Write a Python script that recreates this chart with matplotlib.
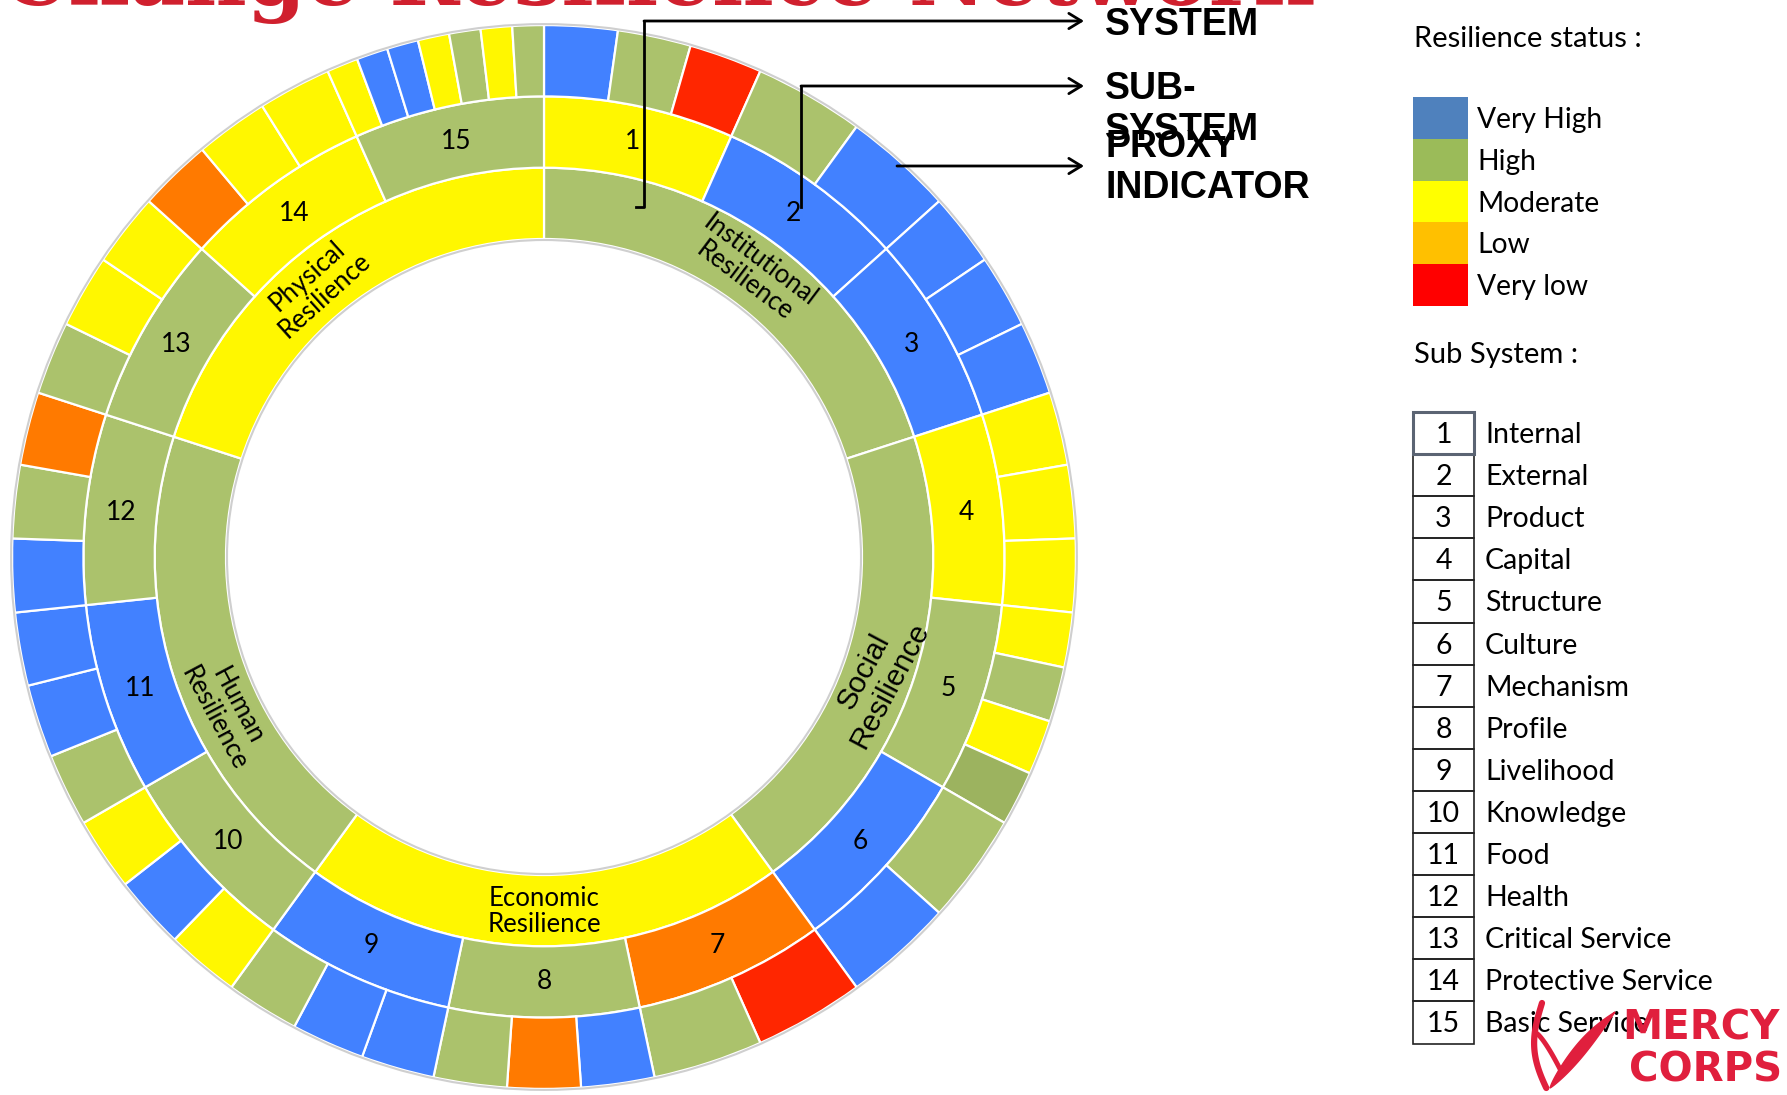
import numpy as np
import matplotlib.pyplot as plt
from matplotlib.patches import Rectangle, Circle, Polygon

W, H = 1787, 1095

# resilience status -> fill colour used in the rings
ring_colors = {
    'VH': '#4281ff',
    'H': '#abc26c',
    'Hd': '#9cb35f',
    'M': '#fff700',
    'L': '#ff7a00',
    'VL': '#ff2600',
}

systems = ['Institutional\nResilience', 'Social\nResilience', 'Economic\nResilience',
           'Human\nResilience', 'Physical\nResilience']
system_status = ['H', 'H', 'M', 'H', 'M']
subs_per_system = [3, 3, 3, 3, 3]

subsystem_ids = list(range(1, 16))
subsystem_names = ['Internal', 'External', 'Product', 'Capital', 'Structure', 'Culture',
                   'Mechanism', 'Profile', 'Livelihood', 'Knowledge', 'Food', 'Health',
                   'Critical Service', 'Protective Service', 'Basic Service']
subsystem_status = ['M', 'VH', 'VH', 'M', 'H', 'VH', 'L', 'H', 'VH', 'H', 'VH', 'H', 'H', 'M', 'H']

# proxy indicators of each sub-system
indicator_status = [
    ['VH', 'H', 'VL'],
    ['H', 'VH'],
    ['VH', 'VH', 'VH'],
    ['M', 'M', 'M'],
    ['M', 'H', 'M', 'Hd'],
    ['H', 'VH'],
    ['VL', 'H'],
    ['VH', 'L', 'H'],
    ['VH', 'VH', 'H'],
    ['M', 'VH', 'M'],
    ['H', 'VH', 'VH'],
    ['VH', 'H', 'L'],
    ['H', 'M', 'M'],
    ['L', 'M', 'M'],
    ['M', 'VH', 'VH', 'M', 'H', 'M', 'H'],
]

status_labels = ['Very High', 'High', 'Moderate', 'Low', 'Very low']
legend_colors = ['#4f81bd', '#9bbb59', '#ffff00', '#ffc000', '#ff0000']

fig = plt.figure(figsize=(W / 100, H / 100), dpi=100)

# ring chart, 1 data unit = 1 pixel
cx, cy, L = 544, 557, 545
ax = fig.add_axes([(cx - L) / W, (H - cy - L) / H, 2 * L / W, 2 * L / H])

wp = dict(edgecolor='white', linewidth=1.6)
r_hole, ring_w = 318, 71.3
r1, r2, r3 = r_hole + ring_w, r_hole + 2 * ring_w, r_hole + 3 * ring_w

sys_wedges, _ = ax.pie(subs_per_system, radius=r1, startangle=90, counterclock=False,
                       colors=[ring_colors[s] for s in system_status],
                       wedgeprops=dict(width=ring_w, **wp))
sub_wedges, _ = ax.pie(np.ones(len(subsystem_ids)), radius=r2, startangle=90, counterclock=False,
                       colors=[ring_colors[s] for s in subsystem_status],
                       wedgeprops=dict(width=ring_w, **wp))
ind_vals = [1 / len(g) for g in indicator_status for _ in g]
ind_cols = [ring_colors[s] for g in indicator_status for s in g]
ax.pie(ind_vals, radius=r3, startangle=90, counterclock=False, colors=ind_cols,
       wedgeprops=dict(width=ring_w, **wp))

ax.add_patch(Circle((0, 0), r3 + 1, fill=False, ec='#cfcfcf', lw=1.5))
ax.add_patch(Circle((0, 0), r_hole - 1, fill=False, ec='#cfcfcf', lw=1.5))

ax.set_xlim(-L, L)
ax.set_ylim(-L, L)
ax.set_aspect('equal')
ax.axis('off')

# sub-system numbers
r_mid = r1 + ring_w / 2
for w, n in zip(sub_wedges, subsystem_ids):
    a = np.deg2rad((w.theta1 + w.theta2) / 2)
    ax.text(r_mid * np.cos(a), r_mid * np.sin(a), str(n), ha='center', va='center',
            fontsize=19, family=['Lato', 'DejaVu Sans'])

# system names, set along the inner ring
label_angle = [36, 110, 180, 244, 320]
label_rot = [-37, 62, 0, -62, 42]
for name, ang, rot in zip(systems, label_angle, label_rot):
    a = np.deg2rad(ang)
    x, y = 354 * np.sin(a), 354 * np.cos(a)
    if name.startswith('Social'):
        fam, fs = ['Liberation Sans', 'DejaVu Sans'], 21.5
    else:
        fam, fs = ['Lato', 'DejaVu Sans'], 18.5
    ax.text(x, y, name, ha='center', va='center', rotation=rot, rotation_mode='anchor',
            multialignment='center', fontsize=fs, family=fam, linespacing=1.05)

# overlay in pixel coordinates for title, arrows and legends
ov = fig.add_axes([0, 0, 1, 1])
ov.set_xlim(0, W)
ov.set_ylim(H, 0)
ov.axis('off')

ov.text(1312, 5, 'Change Resilience Network', ha='right', va='baseline', fontsize=61,
        fontweight='bold', color='#d0202e', family=['DejaVu Serif'])

arrow = dict(arrowstyle='->,head_length=0.9,head_width=0.55', lw=2, color='black',
             shrinkA=0, shrinkB=0)
ov.plot([636, 644, 644], [207, 207, 21], color='black', lw=2)
ov.annotate('', xy=(1084, 21), xytext=(644, 21), arrowprops=arrow)
ov.plot([801, 801], [207, 86], color='black', lw=2)
ov.annotate('', xy=(1084, 86), xytext=(801, 86), arrowprops=arrow)
ov.annotate('', xy=(1084, 166), xytext=(897, 166), arrowprops=arrow)

afont = dict(fontsize=27, fontweight='bold', family=['Liberation Sans', 'DejaVu Sans'],
             va='center', ha='left')
ov.text(1105, 25, 'SYSTEM', **afont)
ov.text(1105, 89, 'SUB-', **afont)
ov.text(1105, 130, 'SYSTEM', **afont)
ov.text(1105, 147, 'PROXY', **afont)
ov.text(1105, 188, 'INDICATOR', **afont)

lfont = dict(family=['Lato', 'DejaVu Sans'], va='center', ha='left')
ov.text(1414, 39, 'Resilience status :', fontsize=21, **lfont)
sw_top, sw_h = 97, 41.8
for i, (lab, col) in enumerate(zip(status_labels, legend_colors)):
    y0 = sw_top + i * sw_h
    ov.add_patch(Rectangle((1413, y0), 55, sw_h, facecolor=col, edgecolor='none'))
    ov.text(1477, y0 + sw_h / 2 + 2, lab, fontsize=20.3, **lfont)

ov.text(1414, 355, 'Sub System :', fontsize=21, **lfont)
row_top, row_h = 412, 42.1
for i, (n, name) in enumerate(zip(subsystem_ids, subsystem_names)):
    y0 = row_top + i * row_h
    if i == 0:
        ov.add_patch(Rectangle((1413, y0), 61, row_h, fill=False, ec='#5b6473', lw=2.2, zorder=3))
    else:
        ov.add_patch(Rectangle((1413, y0), 61, row_h, fill=False, ec='#222222', lw=1.2))
    ov.text(1443.5, y0 + row_h / 2 + 2, str(n), fontsize=20.5, ha='center', va='center',
            family=['Lato', 'DejaVu Sans'])
    ov.text(1485, y0 + row_h / 2 + 2, name, fontsize=20.5, **lfont)

# Mercy Corps mark
red = '#e01f3d'
ov.text(1622, 1029, 'MERCY', fontsize=29, fontweight='heavy', color=red, va='center', ha='left',
        family=['DejaVu Sans'], zorder=5)
ov.text(1629, 1071, 'CORPS', fontsize=29, fontweight='heavy', color=red, va='center', ha='left',
        family=['DejaVu Sans'], zorder=5)
t = np.linspace(0, 1, 50)
# left outline of the leaf
ov.plot(1542 - 12 * np.sin(np.pi * t * 0.9) + 8 * t, 1003 + 85 * t, color=red, lw=4.5,
        zorder=5, solid_capstyle='round')
# inner stroke
ov.plot(1536 + 26 * t, 1033 + 40 * t ** 1.3, color=red, lw=3.5, zorder=5,
        solid_capstyle='round')
# long right leaf, drawn as a crescent
upper = np.column_stack([1550 + 65 * t, 1088 - 76 * t ** 0.8 - 6 * np.sin(np.pi * t)])
lower = np.column_stack([1550 + 65 * t[::-1], 1088 - 76 * t[::-1] ** 1.1 + 4 * np.sin(np.pi * t[::-1])])
ov.add_patch(Polygon(np.vstack([upper, lower]), closed=True, facecolor=red, edgecolor=red,
                     lw=1, zorder=5))

fig.savefig('out.png', dpi=100)
